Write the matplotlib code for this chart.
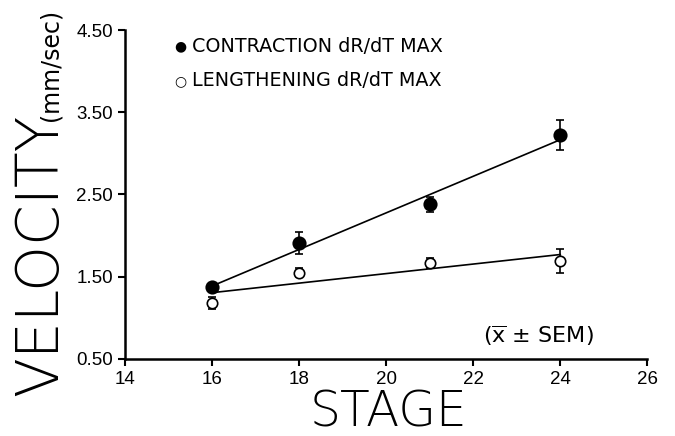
import matplotlib
matplotlib.use("Agg")
import matplotlib.pyplot as plt
import numpy as np

# stage vs peak velocity, mean +/- SEM
stages = [16, 18, 21, 24]
contraction = [1.37, 1.91, 2.38, 3.22]
contraction_sem = [0.04, 0.13, 0.09, 0.18]
lengthening = [1.18, 1.55, 1.67, 1.69]
lengthening_sem = [0.07, 0.06, 0.06, 0.15]

x_ticks = [14, 16, 18, 20, 22, 24, 26]
y_ticks = [0.5, 1.5, 2.5, 3.5, 4.5]

plt.rcParams['font.family'] = ['Liberation Sans', 'DejaVu Sans']

fig = plt.figure(figsize=(6.75, 4.36), dpi=100)
ax = fig.add_axes([0.185, 0.177, 0.774, 0.754])

x = np.array(stages, dtype=float)
fit_x = np.array([16, 24], dtype=float)

for vals, sem, face, ms in [(contraction, contraction_sem, 'black', 9),
                            (lengthening, lengthening_sem, 'white', 7.5)]:
    k, b = np.polyfit(x, vals, 1)
    ax.plot(fit_x, k * fit_x + b, color='black', lw=1.2, zorder=2)
    ax.errorbar(x, vals, yerr=sem, fmt='o', color='black', mfc=face,
                mec='black', mew=1.2, ms=ms, elinewidth=1.2, capsize=3,
                capthick=1.2, zorder=3)

ax.set_xlim(14, 26)
ax.set_ylim(0.5, 4.5)
ax.set_xticks(x_ticks)
ax.set_yticks(y_ticks)
ax.set_yticklabels([f"{v:.2f}" for v in y_ticks])
ax.tick_params(labelsize=13.5, width=1.5, length=5, direction='out')
for side in ['top', 'right']:
    ax.spines[side].set_visible(False)
for side in ['left', 'bottom']:
    ax.spines[side].set_linewidth(1.8)

# legend written as plain text
ax.text(0.095, 0.95, "\u25cf", transform=ax.transAxes, fontsize=10,
        ha='left', va='center', family=['DejaVu Sans'])
ax.text(0.128, 0.95, "CONTRACTION dR/dT MAX", transform=ax.transAxes,
        fontsize=13.8, ha='left', va='center', family=['DejaVu Sans'])
ax.text(0.095, 0.846, "\u25cb", transform=ax.transAxes, fontsize=10,
        ha='left', va='center', family=['DejaVu Sans'])
ax.text(0.128, 0.846, "LENGTHENING dR/dT MAX", transform=ax.transAxes,
        fontsize=13.8, ha='left', va='center', family=['DejaVu Sans'])
ax.text(0.685, 0.07, r"($\overline{\mathrm{x}}$ " + "\u00b1 SEM)",
        transform=ax.transAxes, fontsize=16, ha='left', va='center',
        family=['DejaVu Sans'])

fig.text(0.06, 0.415, "VELOCITY", rotation=90, fontsize=42,
         ha='center', va='center', family=['DejaVu Sans'], weight=200)
fig.text(0.075, 0.852, "(mm/sec)", rotation=90, fontsize=17,
         ha='center', va='center', family=['DejaVu Sans'])
fig.text(0.576, 0.055, "STAGE", fontsize=35, ha='center', va='center',
         family=['DejaVu Sans'], weight=200)

fig.savefig("out.png", dpi=100)
